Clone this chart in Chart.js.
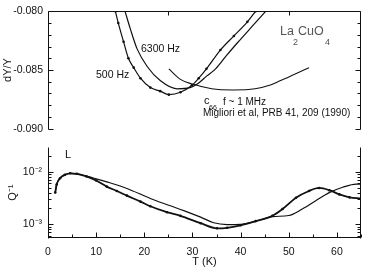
<!DOCTYPE html>
<html>
<head>
<meta charset="utf-8">
<script src="https://cdn.jsdelivr.net/npm/chart.js@4.4.1/dist/chart.umd.min.js"></script>
<style>
  html, body { margin: 0; padding: 0; background: #fff; }
  #wrap { position: relative; width: 365px; height: 267px; background: #fff; overflow: hidden; }
  #wrap canvas { position: absolute; left: 0; }
</style>
</head>
<body>
<div id="wrap">
  <canvas id="topChart" width="365" height="140" style="top:0"></canvas>
  <canvas id="botChart" width="365" height="132" style="top:135px"></canvas>
</div>
<script>
// ---- top panel: dY/Y vs T ----
var t500 = [14.0, 14.6, 15.7, 16.7, 17.8, 19.2, 21.25, 23.3, 25.1, 27.5, 29.9, 31.3, 32.9, 35.8, 38.6, 41.4, 43.1];
var y500 = [-0.0800, -0.0810, -0.0826, -0.0840, -0.0848, -0.0857, -0.0865, -0.0868, -0.0871, -0.0869, -0.0863, -0.0857, -0.0849, -0.0833, -0.0821, -0.0809, -0.0800];

var t6300 = [16.0, 17.1, 18.5, 20.6, 23.3, 26.8, 29.5, 31.0, 33.0, 34.8, 37.0, 39.3, 42.8, 45.2];
var y6300 = [-0.0800, -0.0815, -0.0832, -0.0847, -0.0859, -0.0866, -0.0865, -0.0862, -0.0855, -0.0849, -0.0838, -0.0827, -0.0811, -0.0800];

var tC66 = [25.1, 27.5, 30.0, 34.0, 38.5, 43.0, 46.0, 48.3, 51.0, 54.2];
var yC66 = [-0.0849, -0.0858, -0.0862, -0.0866, -0.0867, -0.0866, -0.0863, -0.0859, -0.0854, -0.0848];

var yTopTicks = [-0.090, -0.085, -0.080];
var yTopMinor = [-0.089, -0.088, -0.087, -0.086, -0.084, -0.083, -0.082, -0.081];
var xTopTicks = [25, 50];

// ---- bottom panel: Q^-1 vs T ----
var tL = [1.5, 1.8, 2.5, 3.5, 4.6, 6, 8, 10, 12.2, 14.3, 16.4, 19.2, 21.25, 24.7, 27.5, 31.7, 35.1, 37.2, 40, 43.1, 46.6, 48.7, 51.5, 54.2, 56.3, 58.4, 60.5, 62.6, 65];
var qL = [4.0e-3, 5.7e-3, 7.5e-3, 8.7e-3, 9.3e-3, 9.1e-3, 8.1e-3, 6.8e-3, 5.2e-3, 4.3e-3, 3.5e-3, 2.7e-3, 2.2e-3, 1.7e-3, 1.45e-3, 1.05e-3, 8.4e-4, 8.6e-4, 9.6e-4, 1.15e-3, 1.45e-3, 1.95e-3, 3.2e-3, 4.3e-3, 4.9e-3, 4.45e-3, 3.7e-3, 3.25e-3, 3.1e-3];

var tFit = [1.5, 1.8, 2.5, 3.5, 4.6, 6, 8, 10, 12.2, 16.4, 21.25, 25.4, 28.2, 31.7, 34.4, 37.2, 40, 43.5, 46.6, 50, 52.8, 55.6, 58.4, 61.2, 64, 65];
var qFit = [4.0e-3, 5.7e-3, 7.5e-3, 8.7e-3, 9.3e-3, 9.1e-3, 8.2e-3, 7.3e-3, 6.4e-3, 4.8e-3, 3.1e-3, 2.25e-3, 1.82e-3, 1.37e-3, 1.07e-3, 9.9e-4, 1.0e-3, 1.17e-3, 1.4e-3, 1.47e-3, 1.95e-3, 2.8e-3, 4.0e-3, 5.06e-3, 5.8e-3, 5.8e-3];

var qTicks = [1e-3, 1e-2];
var qTickLabels = ['10\u207B\u00B3', '10\u207B\u00B2'];
var qMinor = [6e-4, 7e-4, 8e-4, 9e-4, 2e-3, 3e-3, 4e-3, 5e-3, 6e-3, 7e-3, 8e-3, 9e-3, 2e-2];
var xBotMinor = [5, 15, 25, 35, 45, 55, 65];
var xBotMajor = [0, 10, 20, 30, 40, 50, 60];

var FONT = "'Liberation Sans', Arial, sans-serif";
var INK = '#111';

function pts(xs, ys) {
  return xs.map(function (x, i) { return { x: x, y: ys[i] }; });
}

// draws the open frame and inward ticks from the chart's own scales
function framePlugin(cfg) {
  return {
    id: 'frame',
    afterDraw: function (chart) {
      var ctx = chart.ctx, a = chart.chartArea, x = chart.scales.x, y = chart.scales.y;
      var L = Math.round(a.left) + 0.5, R = Math.round(a.right) - 0.5;
      var T = Math.round(a.top) + 0.5, B = Math.round(a.bottom) - 0.5;
      ctx.save();
      ctx.strokeStyle = INK;
      ctx.lineWidth = 1;
      ctx.beginPath();
      ctx.moveTo(L, T); ctx.lineTo(L, B + 1);
      ctx.moveTo(R, T); ctx.lineTo(R, B + 1);
      if (cfg.topLine) { ctx.moveTo(L, T); ctx.lineTo(R, T); }
      if (cfg.bottomLine) { ctx.moveTo(L, B); ctx.lineTo(R, B); }
      function yTick(v, len) {
        var p = Math.round(y.getPixelForValue(v)) + 0.5;
        ctx.moveTo(L, p); ctx.lineTo(L + len, p);
        ctx.moveTo(R, p); ctx.lineTo(R - len, p);
      }
      cfg.yMajor.forEach(function (v) { yTick(v, 5); });
      cfg.yMinor.forEach(function (v) { yTick(v, 3); });
      (cfg.xTop || []).forEach(function (v) {
        var p = Math.round(x.getPixelForValue(v)) + 0.5;
        ctx.moveTo(p, T); ctx.lineTo(p, T + 4);
      });
      (cfg.xMajor || []).forEach(function (v) {
        var p = Math.round(x.getPixelForValue(v)) + 0.5;
        ctx.moveTo(p, B); ctx.lineTo(p, B - 5);
      });
      (cfg.xMinor || []).forEach(function (v) {
        var p = Math.round(x.getPixelForValue(v)) + 0.5;
        ctx.moveTo(p, B); ctx.lineTo(p, B - 3);
      });
      ctx.stroke();
      if (cfg.text) cfg.text(ctx, x, y);
      ctx.restore();
    }
  };
}

function topText(ctx) {
  ctx.fillStyle = INK;
  ctx.textBaseline = 'middle';
  ctx.textAlign = 'left';
  ctx.font = '10.5px ' + FONT;
  ctx.fillText('6300 Hz', 141, 49);
  ctx.fillText('500 Hz', 96, 75);
  ctx.font = '10px ' + FONT;
  ctx.fillText('f ~ 1 MHz', 223, 102);
  ctx.fillText('Migliori et al, PRB 41, 209 (1990)', 203, 113);
  ctx.font = '11px ' + FONT;
  ctx.fillText('c', 204, 101);
  ctx.font = '7px ' + FONT;
  ctx.fillText('66', 209, 108);
  ctx.fillStyle = '#555';
  ctx.font = '12.5px ' + FONT;
  ctx.fillText('La', 280, 32);
  ctx.fillText('CuO', 298, 32);
  ctx.font = '9px ' + FONT;
  ctx.fillText('2', 293, 43);
  ctx.fillText('4', 325, 43);
}

function botText(ctx) {
  ctx.fillStyle = INK;
  ctx.textBaseline = 'middle';
  ctx.textAlign = 'center';
  ctx.font = '11px ' + FONT;
  ctx.fillText('L', 68, 20);
}

var common = {
  responsive: false,
  animation: false,
  events: [],
  plugins: { legend: { display: false }, tooltip: { enabled: false } }
};

var chartTop = new Chart(document.getElementById('topChart'), {
  type: 'line',
  data: {
    datasets: [
      {
        label: '500 Hz',
        data: pts(t500, y500),
        borderColor: INK, backgroundColor: INK,
        borderWidth: 1.2, pointRadius: 1.3, pointBorderWidth: 0,
        cubicInterpolationMode: 'monotone'
      },
      {
        label: '6300 Hz',
        data: pts(t6300, y6300),
        borderColor: INK, borderWidth: 1.2, pointRadius: 0,
        cubicInterpolationMode: 'monotone'
      },
      {
        label: 'c66 f ~ 1 MHz',
        data: pts(tC66, yC66),
        borderColor: INK, borderWidth: 1.1, pointRadius: 0,
        cubicInterpolationMode: 'monotone'
      }
    ]
  },
  options: Object.assign({}, common, {
    layout: { padding: { left: 0, right: 4, top: 8, bottom: 10 } },
    scales: {
      x: { type: 'linear', min: 0, max: 65, display: false },
      y: {
        type: 'linear', min: -0.090, max: -0.080,
        afterBuildTicks: function (s) { s.ticks = yTopTicks.map(function (v) { return { value: v }; }); },
        ticks: {
          padding: 5, color: INK, font: { family: FONT, size: 10.5 },
          callback: function (v) { return v.toFixed(3); }
        },
        grid: { display: false, drawTicks: false },
        border: { display: false },
        title: { display: true, text: 'dY/Y', color: INK, font: { family: FONT, size: 11 }, padding: { top: 1, bottom: 0 } },
        afterFit: function (s) { s.width = 48; }
      }
    }
  }),
  plugins: [framePlugin({ topLine: true, bottomLine: false, yMajor: yTopTicks, yMinor: yTopMinor, xTop: xTopTicks, text: topText })]
});

var chartBot = new Chart(document.getElementById('botChart'), {
  type: 'line',
  data: {
    datasets: [
      {
        label: 'L data',
        data: pts(tL, qL),
        borderColor: INK, backgroundColor: INK,
        borderWidth: 1.8, pointRadius: 1.3, pointBorderWidth: 0,
        cubicInterpolationMode: 'monotone'
      },
      {
        label: 'fit',
        data: pts(tFit, qFit),
        borderColor: INK, borderWidth: 1.2, pointRadius: 0,
        cubicInterpolationMode: 'monotone'
      }
    ]
  },
  options: Object.assign({}, common, {
    layout: { padding: { left: 0, right: 4, top: 10, bottom: 0 } },
    scales: {
      x: {
        type: 'linear', min: 0, max: 65,
        ticks: { stepSize: 10, includeBounds: false, padding: 8, color: INK, font: { family: FONT, size: 10.5 } },
        grid: { display: false, drawTicks: false },
        border: { display: false },
        title: { display: true, text: 'T (K)', color: INK, font: { family: FONT, size: 11 }, padding: { top: 0, bottom: -2 } },
        afterFit: function (s) { s.height = 29; }
      },
      y: {
        type: 'logarithmic', min: 5.5e-4, max: 0.029,
        afterBuildTicks: function (s) { s.ticks = qTicks.map(function (v) { return { value: v }; }); },
        ticks: {
          padding: 6, color: INK, font: { family: FONT, size: 10.5 },
          callback: function (v) {
            var i = qTicks.findIndex(function (q) { return Math.abs(q - v) / q < 1e-6; });
            return i >= 0 ? qTickLabels[i] : '';
          }
        },
        grid: { display: false, drawTicks: false },
        border: { display: false },
        title: { display: true, text: 'Q\u207B\u00B9', color: INK, font: { family: FONT, size: 11 }, padding: { top: 6, bottom: 0 } },
        afterFit: function (s) { s.width = 48; }
      }
    }
  }),
  plugins: [framePlugin({ topLine: false, bottomLine: true, yMajor: qTicks, yMinor: qMinor, xMajor: xBotMajor, xMinor: xBotMinor, text: botText })]
});
</script>
</body>
</html>
